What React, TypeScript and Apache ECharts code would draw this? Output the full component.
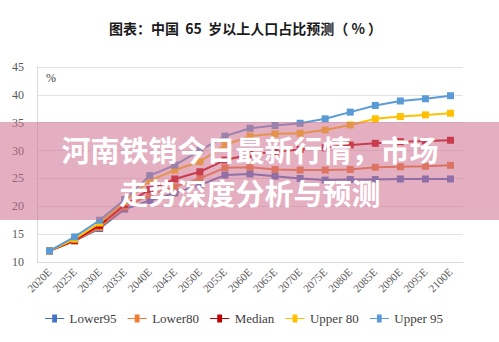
import React, { useEffect, useRef } from "react";
import * as echarts from "echarts";

const categories = ["2020E","2025E","2030E","2035E","2040E","2045E","2050E","2055E","2060E","2065E","2070E","2075E","2080E","2085E","2090E","2095E","2100E"];
const lower95 = [12.0, 13.8, 16.0, 19.5, 21.0, 22.4, 23.8, 25.6, 25.8, 25.4, 25.0, 24.7, 24.8, 24.8, 24.9, 24.9, 24.9];
const lower80 = [12.0, 13.8, 16.2, 19.9, 22.0, 23.5, 25.0, 26.9, 27.0, 26.6, 26.5, 26.5, 26.6, 27.0, 27.1, 27.2, 27.35];
const median = [12.0, 13.9, 16.6, 20.3, 23.0, 24.9, 26.2, 28.3, 29.3, 29.8, 30.2, 30.5, 31.0, 31.3, 31.6, 31.7, 31.85];
const upper80 = [12.0, 14.1, 17.0, 20.8, 24.6, 26.5, 28.0, 31.0, 32.6, 33.0, 33.1, 33.7, 34.6, 35.7, 36.1, 36.4, 36.7];
const upper95 = [12.0, 14.5, 17.5, 21.2, 25.5, 27.4, 30.0, 32.6, 34.0, 34.5, 34.9, 35.7, 36.9, 38.1, 38.9, 39.3, 39.85];
const seriesNames = ["Lower95", "Lower80", "Median", "Upper 80", "Upper 95"];
const seriesData = [lower95, lower80, median, upper80, upper95];
const colors = ["#4472C4", "#ED7D31", "#C00000", "#FFC000", "#5B9BD5"];
const yTicks = { min: 10, max: 45, interval: 5 };
const overlayLine1 = "河南铁销今日最新行情，市场";
const overlayLine2 = "走势深度分析与预测";

export default function App() {
  const ref = useRef<HTMLDivElement>(null);
  useEffect(() => {
    if (!ref.current) return;
    const chart = echarts.init(ref.current, undefined, { renderer: "svg" });
    const serif = "'Liberation Serif', 'DejaVu Serif', serif";
    const overlayStyle = { fontFamily: "'Noto Sans CJK SC'", fontWeight: "bold", fontSize: 29, fill: "#ffffff", align: "center", verticalAlign: "middle" };
    chart.setOption({
      animation: false,
      backgroundColor: "#ffffff",
      title: {
        text: "图表：中国  65  岁以上人口占比预测（ % ）",
        left: 104,
        top: 16,
        textStyle: { fontFamily: "'Noto Sans CJK SC'", fontWeight: "bold", fontSize: 14, color: "#1a1a1a" },
      },
      grid: { left: 37, right: 36, top: 67, bottom: 80, containLabel: false },
      legend: {
        bottom: 12,
        left: 40,
        itemWidth: 24,
        itemHeight: 8,
        itemGap: 11,
        icon: "path://M0,4.5L9,4.5L9,0L15,0L15,4.5L24,4.5L24,5.5L15,5.5L15,10L9,10L9,5.5L0,5.5Z",
        textStyle: { fontFamily: serif, fontSize: 13, color: "#404040", padding: [0, 0, 0, -2] },
        data: seriesNames,
      },
      xAxis: {
        type: "category",
        data: categories,
        boundaryGap: true,
        axisLine: { lineStyle: { color: "#d9d9d9" } },
        axisTick: { show: false },
        axisLabel: { rotate: 45, fontFamily: serif, fontSize: 11, color: "#595959", margin: 8, interval: 0 },
      },
      yAxis: {
        type: "value",
        min: yTicks.min,
        max: yTicks.max,
        interval: yTicks.interval,
        axisLine: { show: true, lineStyle: { color: "#d9d9d9" } },
        axisTick: { show: false },
        splitLine: { lineStyle: { color: "#e3e3e3" } },
        axisLabel: { fontFamily: serif, fontSize: 12, color: "#595959", margin: 13 },
      },
      series: seriesData.map((d, i) => ({
        name: seriesNames[i],
        type: "line",
        data: d,
        symbol: "rect",
        symbolSize: 7,
        lineStyle: { width: 2, color: colors[i] },
        itemStyle: { color: colors[i] },
        z: 2 + i,
      })),
      graphic: [
        { type: "text", left: 46, top: 72, style: { text: "%", fontFamily: serif, fontSize: 12, fill: "#404040" } },
        { type: "rect", shape: { x: 0, y: 122, width: 499, height: 98 }, style: { fill: "rgba(205,110,140,0.55)" }, z: 100 },
        { type: "text", x: 250, y: 149, z: 101, style: { ...overlayStyle, text: overlayLine1 } },
        { type: "text", x: 250, y: 192, z: 101, style: { ...overlayStyle, text: overlayLine2 } },
      ],
    });
    return () => chart.dispose();
  }, []);
  return <div ref={ref} style={{ position: "absolute", left: 0, top: 0, width: 499, height: 342 }} />;
}
